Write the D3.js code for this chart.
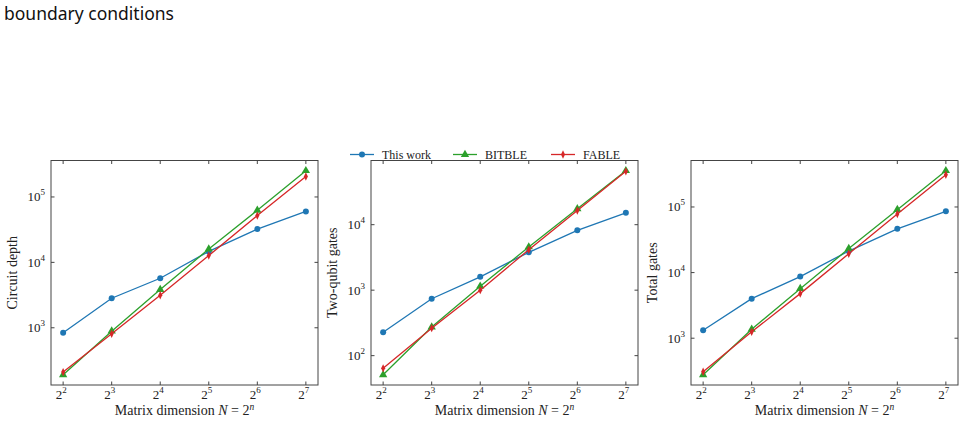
<!DOCTYPE html>
<html>
<head>
<meta charset="utf-8">
<script src="https://cdn.jsdelivr.net/npm/d3@7"></script>
<style>
  body { margin: 0; background: #fff; }
  svg text { font-family: "Liberation Serif", "DejaVu Serif", serif; fill: #222; }
  .title { font-family: "Noto Sans", "Open Sans", sans-serif; font-size: 17.5px; fill: #111; }
</style>
</head>
<body>
<svg id="chart" width="965" height="421"></svg>
<script>
// exponent n, N = 2^n
const exponents = [2, 3, 4, 5, 6, 7];
const seriesNames = ['This work', 'BITBLE', 'FABLE'];
const seriesColors = ['#1f77b4', '#2ca02c', '#d62728'];

// Circuit depth
const depthThisWork = [840, 2830, 5710, 14700, 32300, 60000];
const depthBitble   = [191, 888, 3850, 16000, 62400, 252000];
const depthFable    = [210, 810, 3150, 12700, 51900, 206000];

// Two-qubit gates
const twoqThisWork = [227, 740, 1600, 3780, 8190, 15200];
const twoqBitble   = [51, 274, 1150, 4570, 17500, 66700];
const twoqFable    = [64, 263, 1000, 4150, 16500, 65200];

// Total gates
const totalThisWork = [1320, 4010, 8700, 21300, 46400, 85800];
const totalBitble   = [277, 1370, 5690, 23200, 91000, 357000];
const totalFable    = [308, 1250, 4780, 19400, 78300, 310000];

const panels = [
  { label: 'Circuit depth', left: 51, series: [depthThisWork, depthBitble, depthFable], yTicks: [3, 4, 5] },
  { label: 'Two-qubit gates', left: 371, series: [twoqThisWork, twoqBitble, twoqFable], yTicks: [2, 3, 4] },
  { label: 'Total gates', left: 691, series: [totalThisWork, totalBitble, totalFable], yTicks: [3, 4, 5] }
];

const svg = d3.select('#chart');
const W = 267, TOP = 160.5, H = 224.5;

svg.append('text').attr('class', 'title').attr('x', 4).attr('y', 20).text('boundary conditions');

function powerLabel(sel, base, exp) {
  sel.append('tspan').text(base);
  sel.append('tspan').attr('font-size', '9px').attr('dy', -6).text(exp);
}

function drawMarker(g, kind, color) {
  if (kind === 0) {
    g.append('circle').attr('r', 3).attr('fill', color);
  } else if (kind === 1) {
    g.append('path').attr('d', d3.symbol(d3.symbolTriangle, 30)()).attr('fill', color);
  } else {
    g.append('path').attr('d', 'M0,-4.2L2,0L0,4.2L-2,0Z').attr('fill', color);
  }
}

panels.forEach(p => {
  const g = svg.append('g').attr('transform', `translate(${p.left},${TOP})`);

  const x = d3.scaleLinear().domain([1.75, 7.25]).range([0, W]);
  const all = p.series.flat().map(Math.log10);
  const lo = d3.min(all), hi = d3.max(all), pad = (hi - lo) * 0.05;
  const y = d3.scaleLog().domain([10 ** (lo - pad), 10 ** (hi + pad)]).range([H, 0]);

  // lines and markers
  p.series.forEach((vals, si) => {
    const pts = exponents.map((e, i) => [x(e), y(vals[i])]);
    g.append('path').attr('d', d3.line()(pts))
      .attr('fill', 'none').attr('stroke', seriesColors[si]).attr('stroke-width', 1.3);
    pts.forEach(pt => {
      drawMarker(g.append('g').attr('transform', `translate(${pt[0]},${pt[1]})`), si, seriesColors[si]);
    });
  });

  // frame
  g.append('rect').attr('width', W).attr('height', H)
    .attr('fill', 'none').attr('stroke', '#444').attr('stroke-width', 1);

  // x ticks (inward, top and bottom)
  exponents.forEach(e => {
    const tx = x(e);
    g.append('line').attr('x1', tx).attr('x2', tx).attr('y1', H).attr('y2', H - 3.5).attr('stroke', '#444');
    g.append('line').attr('x1', tx).attr('x2', tx).attr('y1', 0).attr('y2', 3.5).attr('stroke', '#444');
    const t = g.append('text').attr('x', tx - 2).attr('y', H + 13.5).attr('text-anchor', 'middle').attr('font-size', '13px');
    powerLabel(t, '2', e);
  });

  // y ticks
  p.yTicks.forEach(k => {
    const ty = y(10 ** k);
    g.append('line').attr('x1', 0).attr('x2', 3.5).attr('y1', ty).attr('y2', ty).attr('stroke', '#444');
    g.append('line').attr('x1', W).attr('x2', W - 3.5).attr('y1', ty).attr('y2', ty).attr('stroke', '#444');
    const t = g.append('text').attr('x', -6).attr('y', ty + 4.5).attr('text-anchor', 'end').attr('font-size', '13px');
    powerLabel(t, '10', k);
  });

  // axis labels
  g.append('text').attr('transform', `translate(-34,${H / 2}) rotate(-90)`)
    .attr('text-anchor', 'middle').attr('font-size', '14px').text(p.label);
  const xl = g.append('text').attr('x', W / 2).attr('y', H + 30).attr('text-anchor', 'middle').attr('font-size', '14px');
  xl.append('tspan').text('Matrix dimension ');
  xl.append('tspan').attr('font-style', 'italic').text('N');
  xl.append('tspan').text(' = 2');
  xl.append('tspan').attr('font-style', 'italic').attr('font-size', '9.5px').attr('dy', -5).text('n');
});

// legend above middle panel
const legendX = [350, 453, 551];
seriesNames.forEach((name, i) => {
  const lg = svg.append('g').attr('transform', `translate(${legendX[i]},154.5)`);
  lg.append('line').attr('x1', 0).attr('x2', 24).attr('stroke', seriesColors[i]).attr('stroke-width', 1.3);
  drawMarker(lg.append('g').attr('transform', 'translate(12,0)'), i, seriesColors[i]);
  lg.append('text').attr('x', 32).attr('y', 4).attr('font-size', '12px').text(name);
});
</script>
</body>
</html>
